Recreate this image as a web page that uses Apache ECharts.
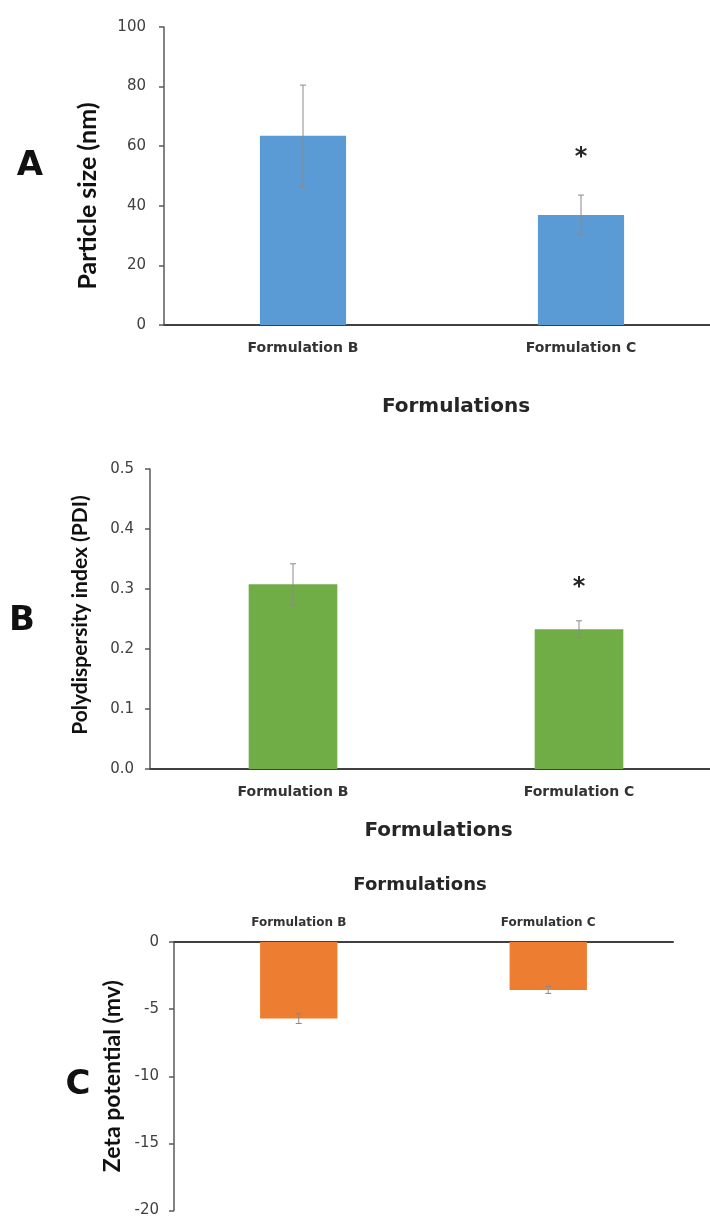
<!DOCTYPE html>
<html>
<head>
<meta charset="utf-8">
<script src="https://cdn.jsdelivr.net/npm/echarts@6/dist/echarts.min.js"></script>
<style>
  html, body { margin: 0; padding: 0; background: #fff; overflow: hidden; }
  /* 画布比窗口略宽，右侧坐标轴被裁掉，和原图一致 */
  #chart { width: 730px; height: 1218px; }
</style>
</head>
<body>
<div id="chart"></div>
<script>
// 数据
const categories = ['Formulation B', 'Formulation C'];
const sizeMean = [63.5, 36.9];
const sizeErr = [17.0, 6.7];
const pdiMean = [0.308, 0.233];
const pdiErr = [0.034, 0.014];
const zetaMean = [-5.7, -3.57];
const zetaErr = [0.37, 0.26];
const sigMarks = ['', '*'];   // 显著性标记
const zetaSig = ['', ''];

const axisFont = 'DejaVu Sans';
const titleFont = 'Lato';

// 误差棒 + 星号
function errorSeries(idx, mean, err, sig, gap) {
  return {
    type: 'custom',
    xAxisIndex: idx,
    yAxisIndex: idx,
    silent: true,
    z: 5,
    data: categories.map((c, i) => [i, mean[i], err[i]]),
    renderItem: function (params, api) {
      const i = api.value(0);
      const m = api.value(1);
      const e = api.value(2);
      const hi = api.coord([i, m + e]);
      const lo = api.coord([i, m - e]);
      const st = { stroke: '#8a8a8a', lineWidth: 1 };
      const children = [
        { type: 'line', shape: { x1: hi[0], y1: hi[1], x2: lo[0], y2: lo[1] }, style: st },
        { type: 'line', shape: { x1: hi[0] - 3, y1: hi[1], x2: hi[0] + 3, y2: hi[1] }, style: st },
        { type: 'line', shape: { x1: lo[0] - 3, y1: lo[1], x2: lo[0] + 3, y2: lo[1] }, style: st },
      ];
      if (sig[i]) {
        children.push({
          type: 'text',
          style: {
            text: sig[i], x: hi[0], y: hi[1] - gap,
            align: 'center', verticalAlign: 'middle',
            font: 'bold 24px "DejaVu Sans"', fill: '#262626',
          },
        });
      }
      return { type: 'group', children: children };
    },
  };
}

// nameShift: 轴名沿轴向下移动的像素(负数向上)
function valueAxis(idx, min, max, interval, name, nameSize, nameGap, nameShift, margin, fmt) {
  return {
    type: 'value',
    gridIndex: idx,
    min: min,
    max: max,
    interval: interval,
    name: name,
    nameLocation: 'middle',
    nameGap: nameGap,
    nameTextStyle: {
      fontFamily: titleFont, fontWeight: 'bold', fontSize: nameSize, color: '#111',
      padding: nameShift >= 0 ? [0, nameShift * 2, 0, 0] : [0, 0, 0, -nameShift * 2],
    },
    axisLine: { show: true, lineStyle: { color: '#5a5a5a', width: 1.5 } },
    axisTick: { show: true, length: 5, lineStyle: { color: '#5a5a5a', width: 1.5 } },
    splitLine: { show: false },
    axisLabel: {
      fontFamily: axisFont, fontSize: 15, color: '#404040', margin: margin,
      formatter: fmt,
    },
  };
}

function catAxis(idx, pos, name, nameSize, nameGap, pad, labelSize, margin) {
  return {
    type: 'category',
    gridIndex: idx,
    position: pos,
    data: categories,
    name: name,
    nameLocation: 'middle',
    nameGap: nameGap,
    nameTextStyle: { fontFamily: axisFont, fontWeight: 'bold', fontSize: nameSize, color: '#262626', padding: pad },
    axisLine: { show: true, onZero: false, lineStyle: { color: '#404040', width: 2 } },
    axisTick: { show: false },
    axisLabel: { fontFamily: axisFont, fontWeight: 'bold', fontSize: labelSize, color: '#333', margin: margin },
  };
}

function barSeries(idx, data, color) {
  return {
    type: 'bar',
    xAxisIndex: idx,
    yAxisIndex: idx,
    data: data,
    barWidth: '31%',
    itemStyle: { color: color },
    z: 2,
  };
}

const letterStyle = { font: 'bold 34px "DejaVu Sans"', fill: '#111', align: 'center', verticalAlign: 'middle' };

const myChart = echarts.init(document.getElementById('chart'));
myChart.setOption({
  animation: false,
  backgroundColor: '#fff',
  grid: [
    { left: 164, top: 27, width: 556, height: 298 },
    { left: 150, top: 469, width: 572, height: 300 },
    { left: 174, top: 942, width: 499, height: 272 },
  ],
  xAxis: [
    catAxis(0, 'bottom', 'Formulations', 20, 72, [0, 0, 0, 28], 14, 16),
    catAxis(1, 'bottom', 'Formulations', 20, 52, [0, 0, 0, 5], 14, 16),
    catAxis(2, 'top', 'Formulations', 18, 48, [0, 7, 0, 0], 12, 13),
  ],
  yAxis: [
    valueAxis(0, 0, 100, 20, 'Particle size (nm)', 25, 64, 20, 18, null),
    valueAxis(1, 0, 0.5, 0.1, 'Polydispersity index (PDI)', 21, 59, -4, 16, v => v.toFixed(1)),
    valueAxis(2, -20, 0, 5, 'Zeta potential (mv)', 23, 49, 0, 15, null),
  ],
  series: [
    barSeries(0, sizeMean, '#5b9bd5'),
    barSeries(1, pdiMean, '#70ad47'),
    barSeries(2, zetaMean, '#ed7d31'),
    errorSeries(0, sizeMean, sizeErr, sigMarks, 37),
    errorSeries(1, pdiMean, pdiErr, sigMarks, 33),
    errorSeries(2, zetaMean, zetaErr, zetaSig, 0),
  ],
  graphic: [
    { type: 'text', x: 30, y: 166, style: Object.assign({ text: 'A' }, letterStyle) },
    { type: 'text', x: 22, y: 621, style: Object.assign({ text: 'B' }, letterStyle) },
    { type: 'text', x: 78, y: 1085, style: Object.assign({ text: 'C' }, letterStyle) },
  ],
});
</script>
</body>
</html>
